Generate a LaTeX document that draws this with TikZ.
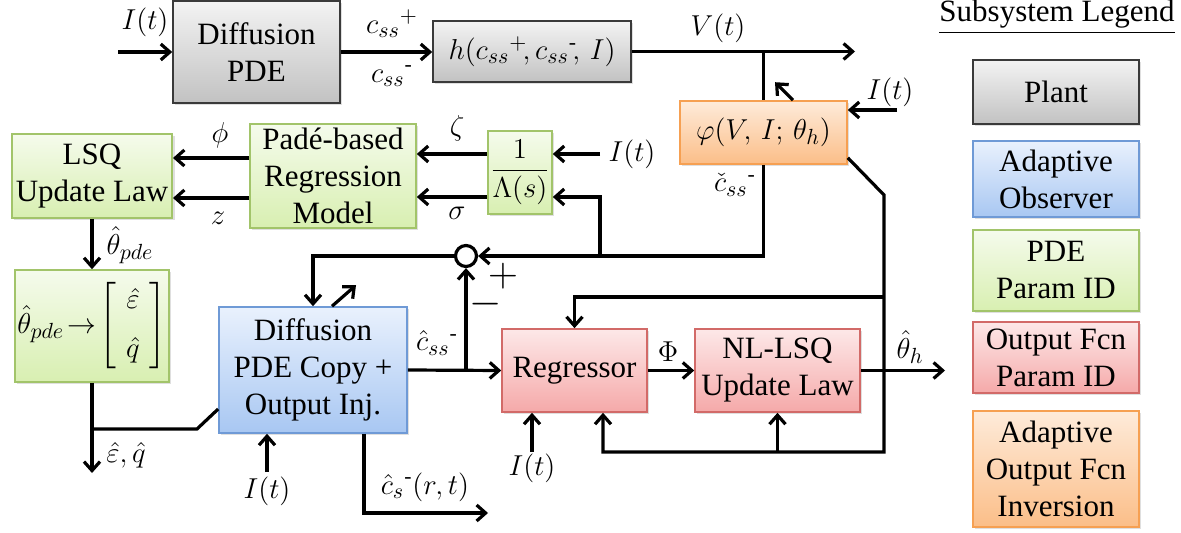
\documentclass[tikz,border=0pt]{standalone}
\usepackage{amsmath}
\usepackage{fontspec}
\setmainfont{Liberation Serif}
\usetikzlibrary{arrows.meta,shadows}
\definecolor{PlantTop}{HTML}{F3F3F3}
\definecolor{PlantBot}{HTML}{C2C2C2}
\definecolor{PlantEdge}{HTML}{3A3A3A}
\definecolor{ObsTop}{HTML}{E9F1FD}
\definecolor{ObsBot}{HTML}{A8C7F2}
\definecolor{ObsEdge}{HTML}{6F9AD6}
\definecolor{IdTop}{HTML}{F5FBEC}
\definecolor{IdBot}{HTML}{D8EFB1}
\definecolor{IdEdge}{HTML}{A2C46A}
\definecolor{FcnTop}{HTML}{FDE8E8}
\definecolor{FcnBot}{HTML}{F5A9A9}
\definecolor{FcnEdge}{HTML}{D26A68}
\definecolor{InvTop}{HTML}{FEEBDA}
\definecolor{InvBot}{HTML}{FBBE88}
\definecolor{InvEdge}{HTML}{F6A052}
\newcommand{\mainsize}{\fontsize{15.5}{18.5}\selectfont}

\begin{document}
\begin{tikzpicture}[
  x=0.5pt,y=-0.5pt,
  every node/.style={font=\mainsize},
  wire/.style={line width=1.6pt,draw=black},
  arr/.style={wire,-{Straight Barb[length=4.5pt,width=8pt]}},
  block/.style={rectangle,line width=0.8pt,align=center,inner sep=2pt,
    drop shadow={shadow xshift=1.2pt,shadow yshift=-1.2pt,opacity=0.25}},
  plantbox/.style={block,draw=PlantEdge,top color=PlantTop,bottom color=PlantBot},
  obsbox/.style={block,draw=ObsEdge,top color=ObsTop,bottom color=ObsBot},
  idbox/.style={block,draw=IdEdge,top color=IdTop,bottom color=IdBot},
  fcnbox/.style={block,draw=FcnEdge,top color=FcnTop,bottom color=FcnBot},
  invbox/.style={block,draw=InvEdge,top color=InvTop,bottom color=InvBot},
  sumnode/.style={circle,draw,line width=1.6pt,fill=white,minimum size=10.5pt,inner sep=0pt},
  sign/.style={font=\fontsize{21}{24}\selectfont}
]
  \useasboundingbox (0,0) rectangle (1181,533);

  % plant
  \node[plantbox,minimum width=83.5pt,minimum height=51pt] (pde) at (256.5,52) {Diffusion\\PDE};
  \node[plantbox,minimum width=99pt,minimum height=30.5pt] (hfun) at (532,51.5)
    {$h(c_{ss}{}^{+}\!,c_{ss}{}^{\text{-}}\!,\, I)$};

  % output function inversion
  \node[invbox,minimum width=83.5pt,minimum height=31.5pt] (phi) at (763.5,132.5)
    {$\varphi(V,\, I;\, \theta_{h})$};

  % PDE parameter identification
  \node[idbox,minimum width=32pt,minimum height=41.5pt,inner sep=0pt] (lam) at (520,172.5)
    {$\dfrac{1}{\Lambda(s)}$};
  \node[idbox,minimum width=83pt,minimum height=52pt] (pade) at (333,176)
    {Padé-based\\Regression\\Model};
  \node[idbox,minimum width=80pt,minimum height=42pt] (lsq) at (92,176) {LSQ\\Update Law};
  \node[idbox,minimum width=77pt,minimum height=56pt,inner sep=0pt] (pmap) at (92,326)
    {$\hat{\theta}_{pde}\!\rightarrow\!\left[\begin{array}{c}\hat{\varepsilon}\\[6pt]\hat{q}\end{array}\right]$};

  % adaptive observer
  \node[obsbox,minimum width=94pt,minimum height=63pt] (obs) at (313,370)
    {Diffusion\\PDE Copy +\\Output Inj.};
  \node[sumnode] (sum) at (466,256) {};

  % output function parameter identification
  \node[fcnbox,minimum width=72.5pt,minimum height=41.5pt] (regr) at (574.5,370.5) {Regressor};
  \node[fcnbox,minimum width=82.5pt,minimum height=41.5pt] (nlsq) at (777.5,370.5)
    {NL-LSQ\\Update Law};

  % free ends and levels
  \coordinate (itPde) at (118,52);
  \coordinate (vEnd) at (855,52);
  \coordinate (itPhi) at (897,110);
  \coordinate (itLam) at (600,154);
  \coordinate (brLam) at (600,256);
  \coordinate (yZeta) at (0,154);
  \coordinate (ySigma) at (0,197);
  \coordinate (yPhiR) at (0,158);
  \coordinate (yZ) at (0,198);
  \coordinate (eqEnd) at (92,473);
  \coordinate (eqBr) at (92,429);
  \coordinate (itObs) at (267,472);
  \coordinate (csEnd) at (488,513);
  \coordinate (brSum) at (466,370);
  \coordinate (thEnd) at (945,370.5);
  \coordinate (fbTop) at (884,195);
  \coordinate (fbMid) at (884,297);
  \coordinate (fbBot) at (884,452);
  \coordinate (itReg) at (532,452);

  % plant signals
  \draw[arr] (itPde) -- (pde.west);
  \draw[arr] (pde.east) -- (pde.east -| hfun.west);
  \draw[arr] (hfun.east) -- (hfun.east -| vEnd);
  \draw[wire] (hfun.east -| phi.north) -- (phi.north);
  \draw[arr] ([xshift=14.75pt]phi.north) -- ++(-18,-18);
  \draw[arr] (itPhi) -- (itPhi -| phi.east);
  \draw[arr] (phi.south) |- (sum.east);
  \draw[arr] (brLam) |- (lam.east |- ySigma);
  \draw[arr] (itLam) -- (itLam -| lam.east);

  % PDE parameter loop
  \draw[arr] (lam.west |- yZeta) -- (pade.east |- yZeta);
  \draw[arr] (lam.west |- ySigma) -- (pade.east |- ySigma);
  \draw[arr] (pade.west |- yPhiR) -- (lsq.east |- yPhiR);
  \draw[arr] (pade.west |- yZ) -- (lsq.east |- yZ);
  \draw[arr] (lsq.south) -- (pmap.north);
  \draw[arr] (pmap.south) -- (eqEnd);
  \draw[wire] (eqBr) -- ++(105,0) -- ([yshift=-19.5pt]obs.west);

  % observer
  \draw[arr] (sum.west) -| (obs.north);
  \draw[arr] ([xshift=9.5pt]obs.north) -- ++(24,-21);
  \draw[arr] (itObs) -- (itObs |- obs.south);
  \draw[arr] ([xshift=25.5pt]obs.south) |- (csEnd);
  \draw[arr] (obs.east) -- (regr.west);
  \draw[arr] (brSum) -- (sum.south);

  % output function loop
  \draw[arr] (regr.east) -- (nlsq.west);
  \draw[arr] (nlsq.east) -- (thEnd);
  \draw[arr] ([yshift=3.5pt]phi.south east) -- (fbTop) -- (fbBot) -| ([xshift=14.25pt]regr.south);
  \draw[arr] (fbBot -| nlsq.south) -- (nlsq.south);
  \draw[arr] (fbMid) -| (regr.north);
  \draw[arr] (itReg) -- (itReg |- regr.south);

  % signal labels
  \node (lbItPde) at (145,22) {$I(t)$};
  \node (lbCp) at (392,24) {$c_{ss}{}^{+}$};
  \node (lbCm) at (392,76) {$c_{ss}{}^{\text{-}}$};
  \node (lbV) at (718,28) {$V(t)$};
  \node (lbItPhi) at (890,92) {$I(t)$};
  \node (lbCc) at (735,185) {$\check{c}_{ss}{}^{\text{-}}$};
  \node (lbItLam) at (632,154) {$I(t)$};
  \node (lbZeta) at (457,128) {$\zeta$};
  \node (lbSigma) at (457,213) {$\sigma$};
  \node (lbPhi) at (220,135) {$\phi$};
  \node (lbZ) at (218,218) {$z$};
  \node (lbTh) at (130,245) {$\hat{\theta}_{pde}$};
  \node (lbEq) at (126,455) {$\hat{\varepsilon},\hat{q}$};
  \node (lbItObs) at (267,491) {$I(t)$};
  \node (lbCs) at (425,487) {$\hat{c}_{s}{}^{\text{-}}(r,t)$};
  \node (lbChat) at (437,343) {$\hat{c}_{ss}{}^{\text{-}}$};
  \node[sign] (lbPlus) at (503,276) {$+$};
  \node[sign] (lbMinus) at (486,304) {$-$};
  \node (lbBigPhi) at (668,352) {$\Phi$};
  \node (lbThH) at (910,347) {$\hat{\theta}_{h}$};
  \node (lbItReg) at (532,468) {$I(t)$};

  % legend
  \node (lgTitle) at (1057,17) {\underline{Subsystem Legend}};
  \node[plantbox,minimum width=83pt,minimum height=32pt] (lgPlant) at (1056,92) {Plant};
  \node[obsbox,minimum width=83pt,minimum height=38pt] (lgObs) at (1056,179) {Adaptive\\Observer};
  \node[idbox,minimum width=83pt,minimum height=40.5pt] (lgId) at (1056,270.5) {PDE\\Param ID};
  \node[fcnbox,minimum width=83pt,minimum height=35.5pt] (lgFcn) at (1056,357.5) {Output Fcn\\Param ID};
  \node[invbox,minimum width=83pt,minimum height=58pt] (lgInv) at (1056,469)
    {Adaptive\\Output Fcn\\Inversion};
\end{tikzpicture}
\end{document}
